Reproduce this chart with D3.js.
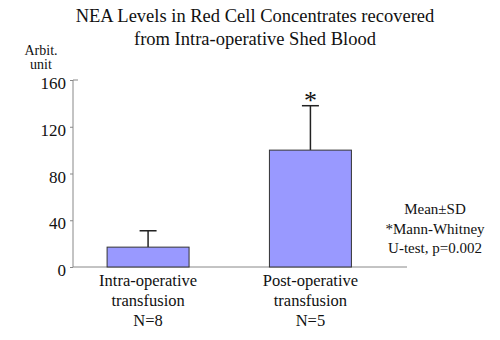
<!DOCTYPE html>
<meta charset="utf-8">
<style>
html, body { margin: 0; background: #fff; }
</style>
<body>
<script src="https://cdn.jsdelivr.net/npm/d3@7"></script>
<script>
var groups = ["Intra-operative", "Post-operative"],
    groupLine2 = ["transfusion", "transfusion"],
    groupN = ["N=8", "N=5"],
    means = [17, 100],
    sds = [14, 38],
    marks = ["", "*"],
    yTicks = [0, 40, 80, 120, 160],
    notes = ["Mean\u00b1SD", "*Mann-Whitney", "U-test, p=0.002"];

var width = 500, height = 340,
    serif = "'Liberation Serif', 'DejaVu Serif', serif";

var svg = d3.select("body").append("svg")
    .attr("width", width)
    .attr("height", height)
    .attr("font-family", serif);

var x = d3.scaleBand().domain(groups).range([73, 385.5]).paddingInner(0.495).paddingOuter(0.21);
var y = d3.scaleLinear().domain([0, 160]).range([267, 80]);

function label(px, py, t, size) {
  return svg.append("text").attr("x", px).attr("y", py)
    .attr("text-anchor", "middle")
    .attr("font-family", serif)
    .attr("font-size", size)
    .attr("fill", "#111")
    .text(t);
}

// title
label(255, 22, "NEA Levels in Red Cell Concentrates recovered", 18.5);
label(255, 45, "from Intra-operative Shed Blood", 18.5);

// y label
label(41, 55, "Arbit.", 14);
label(41, 69, "unit", 14);

// axes
var yAxis = svg.append("g").attr("transform", "translate(73,0)")
  .call(d3.axisLeft(y).tickValues(yTicks).tickSize(3).tickPadding(4));
yAxis.select(".domain").remove();
yAxis.attr("font-family", serif).attr("font-size", 17);
yAxis.selectAll("text").attr("fill", "#111").attr("dy", "0.5em");
yAxis.selectAll("line").attr("stroke", "#888");

svg.append("path")
  .attr("d", "M78," + y(160) + "H73V" + y(0) + "H407")
  .attr("fill", "none").attr("stroke", "#888").attr("stroke-width", 1);

// error bars
var bw = x.bandwidth();
groups.forEach(function(g, i) {
  var cx = x(g) + bw / 2;
  svg.append("line").attr("x1", cx).attr("x2", cx)
    .attr("y1", y(means[i])).attr("y2", y(means[i] + sds[i]))
    .attr("stroke", "#222").attr("stroke-width", 1.5);
  svg.append("line").attr("x1", cx - 8.5).attr("x2", cx + 8.5)
    .attr("y1", y(means[i] + sds[i])).attr("y2", y(means[i] + sds[i]))
    .attr("stroke", "#222").attr("stroke-width", 1.5);
  if (marks[i]) label(cx, y(means[i] + sds[i]) + 3, marks[i], 26);
});

// bars
svg.selectAll("rect.bar").data(groups).enter().append("rect")
  .attr("class", "bar")
  .attr("x", function(d) { return x(d); })
  .attr("width", bw)
  .attr("y", function(d, i) { return y(means[i]); })
  .attr("height", function(d, i) { return y(0) - y(means[i]); })
  .attr("fill", "#9999ff")
  .attr("stroke", "#333")
  .attr("stroke-width", 1);

// category labels
groups.forEach(function(g, i) {
  var cx = x(g) + bw / 2;
  [g, groupLine2[i], groupN[i]].forEach(function(t, j) {
    label(cx, 286 + j * 20, t, 16.5);
  });
});

// notes
notes.forEach(function(t, i) {
  label(435, 214 + i * 19.5, t, 15);
});
</script>
</body>
